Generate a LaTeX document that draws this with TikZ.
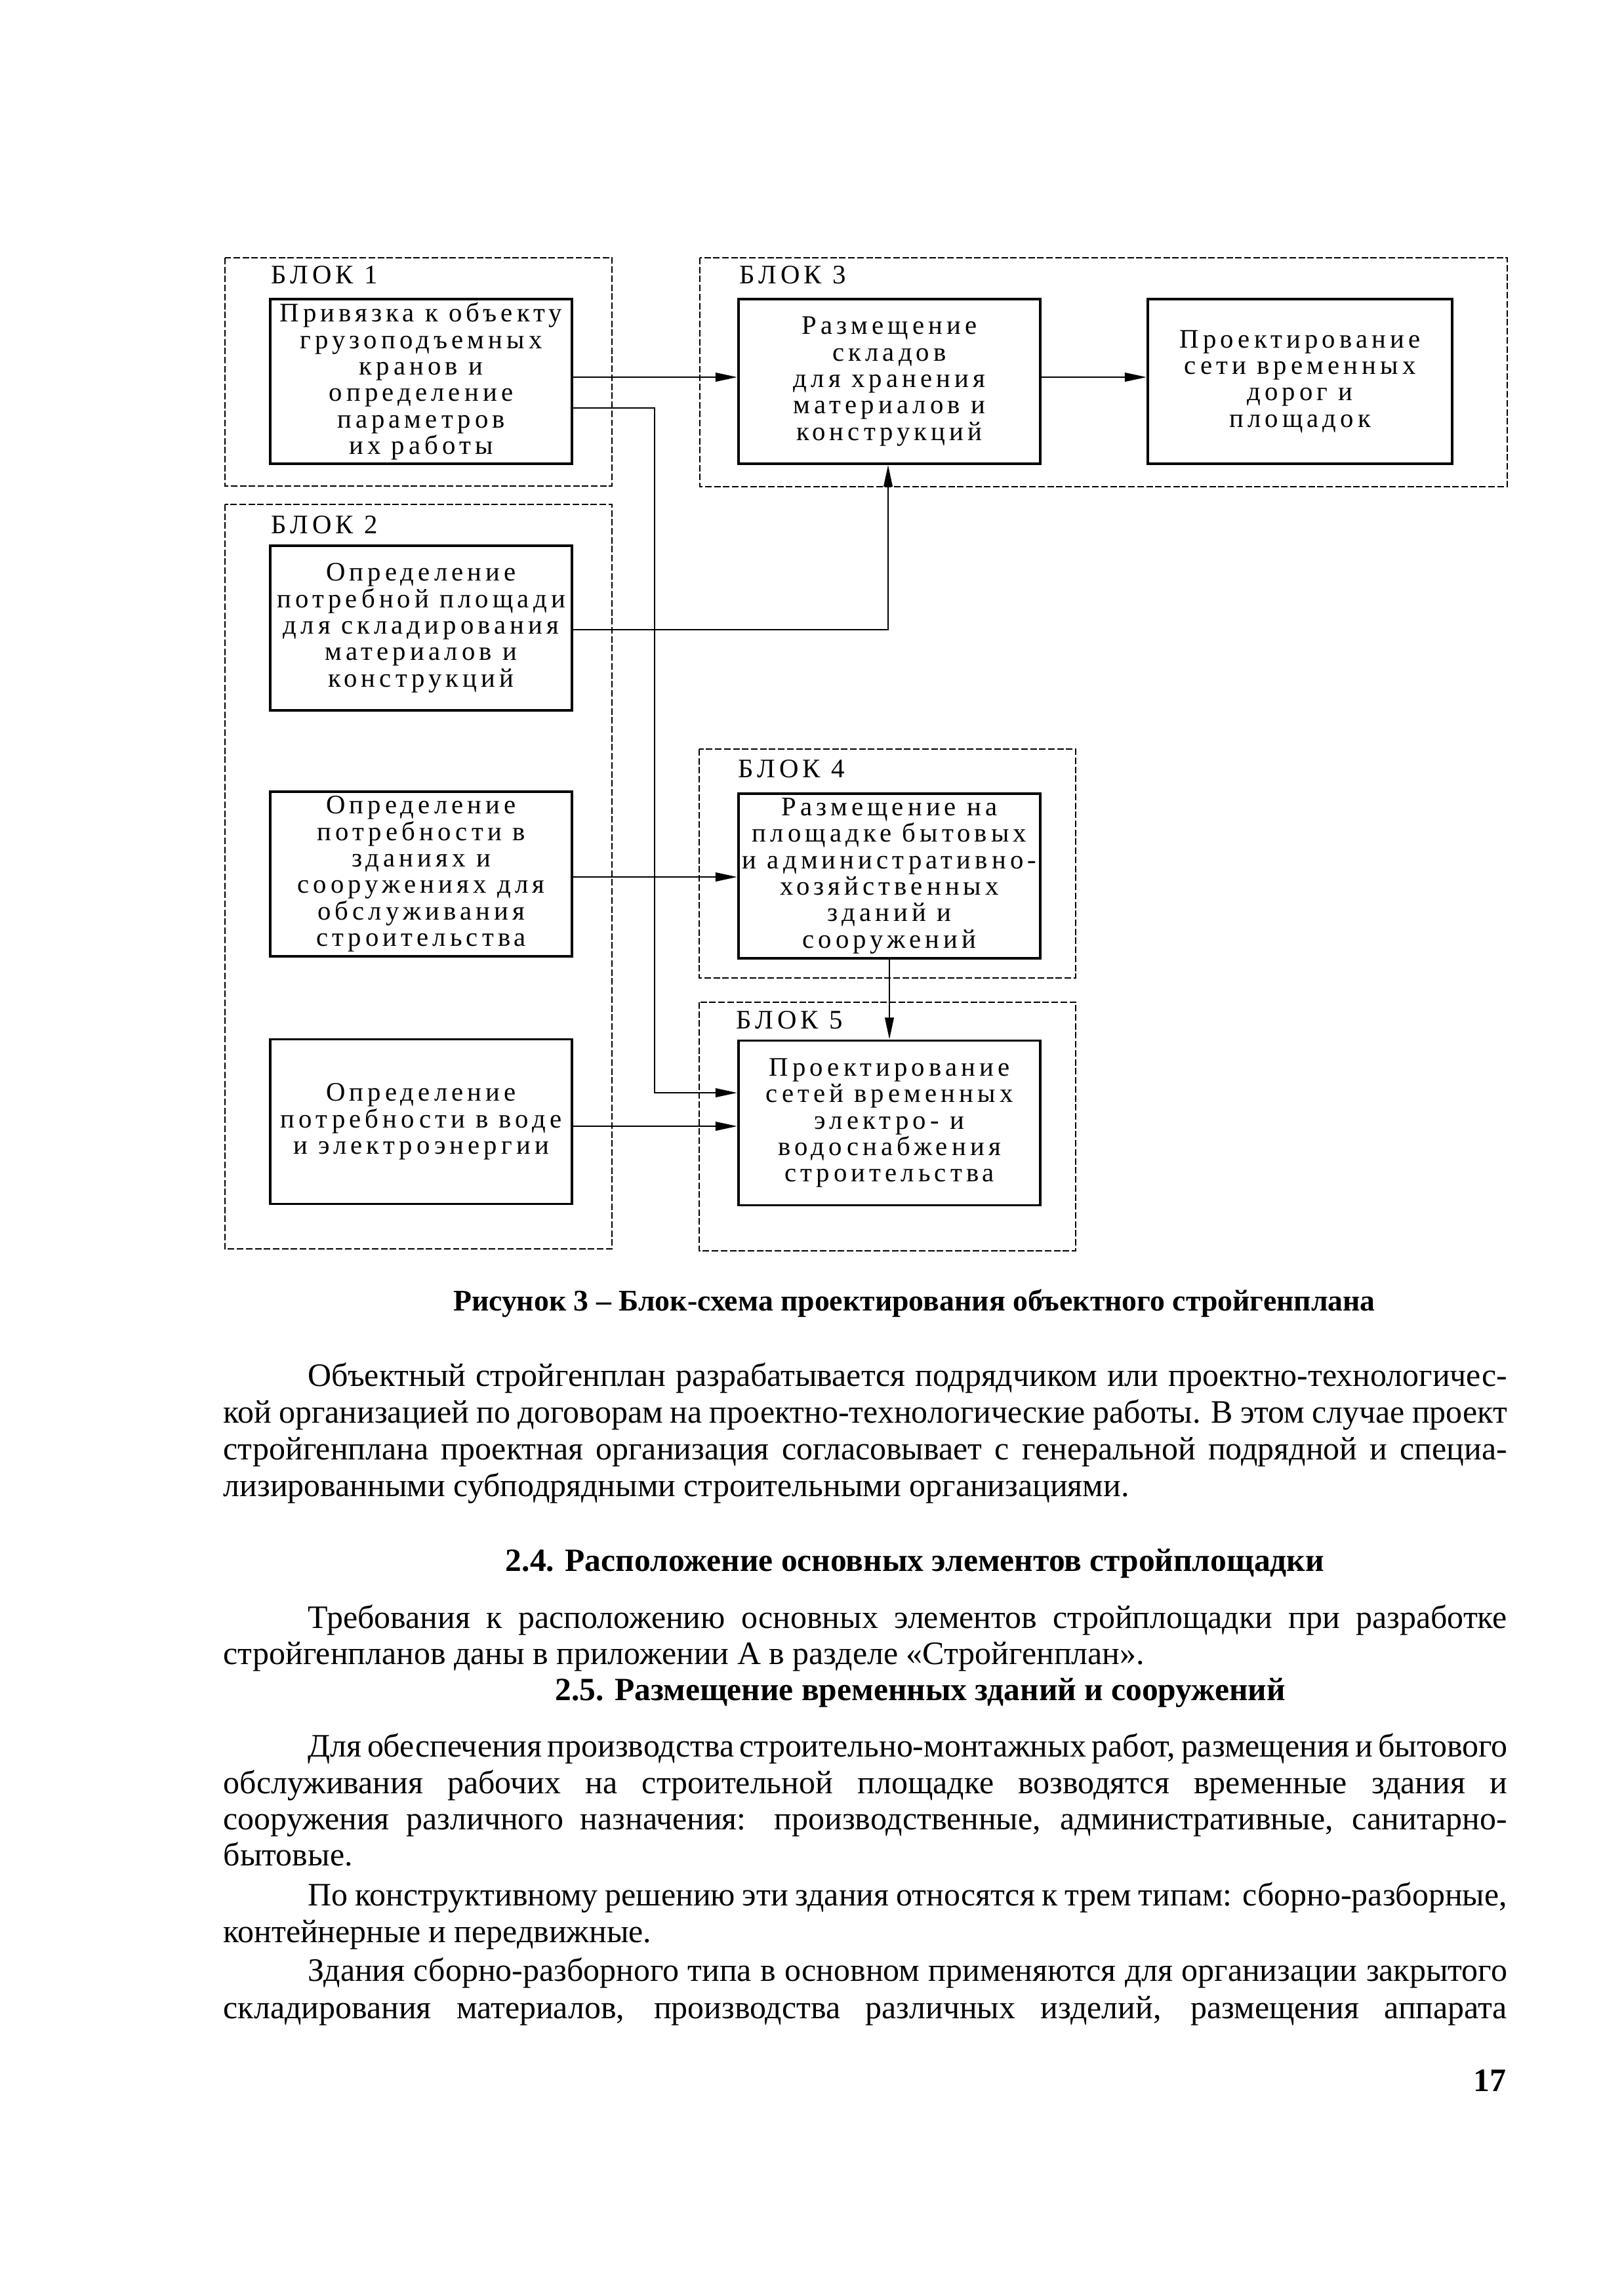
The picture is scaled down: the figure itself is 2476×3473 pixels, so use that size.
\documentclass[tikz,border=0pt]{standalone}
\usepackage{fontspec}
\setmainfont{Liberation Serif}
\newfontfamily\boxfont[LetterSpace=15]{Liberation Serif}
\usetikzlibrary{arrows.meta}
\newcommand\jfull[1]{\makebox[470.5pt][s]{#1}}
\newcommand\jind[1]{\makebox[439.5pt][s]{#1}}
\begin{document}
\begin{tikzpicture}[x=0.2404pt, y=-0.2404pt,
  frame/.style={line width=0.45pt, dash pattern=on 2.4pt off 0.9pt},
  proc/.style={draw, line width=0.9pt, inner sep=0pt, align=center,
    font=\boxfont\fontsize{9.8}{9.7}\selectfont,
    minimum width=110.6pt, minimum height=60.3pt},
  blabel/.style={inner sep=0pt, anchor=base west, font=\boxfont\fontsize{9.8}{9.7}\selectfont},
  conn/.style={line width=0.7pt},
  arr/.style={conn, -{Triangle[length=8pt,width=3.2pt]}},
  body/.style={inner sep=0pt, anchor=base west, font=\fontsize{12}{13.5}\selectfont},
  head/.style={inner sep=0pt, anchor=base, font=\bfseries\fontsize{11.9}{13.5}\selectfont},
  capt/.style={inner sep=0pt, anchor=base, font=\bfseries\fontsize{11}{13}\selectfont}]
\useasboundingbox[fill=white] (0,0) rectangle (2476,3473);

% dashed block frames
\draw[frame] (343,393) rectangle (933,741);
\draw[frame] (343,769) rectangle (933,1904);
\draw[frame] (1067,393) rectangle (2298,742);
\draw[frame] (1066,1142) rectangle (1640,1491);
\draw[frame] (1066,1528) rectangle (1640,1907);

% block labels
\node[blabel] (l1) at (413,432) {БЛОК 1};
\node[blabel] (l2) at (413,813) {БЛОК 2};
\node[blabel] (l3) at (1127,432) {БЛОК 3};
\node[blabel] (l4) at (1125,1185) {БЛОК 4};
\node[blabel] (l5) at (1122,1568) {БЛОК 5};

% process boxes
\node[proc] (box1) at (642,581.5) {Привязка к объекту\\грузоподъемных\\кранов и\\определение\\параметров\\их работы};
\node[proc] (box3a) at (1356,581.5) {Размещение\\складов\\для хранения\\материалов и\\конструкций};
\node[proc, minimum width=111.5pt] (box3b) at (1982,581.5) {Проектирование\\сети временных\\дорог и\\площадок};
\node[proc] (box2a) at (642,957.5) {Определение\\потребной площади\\для складирования\\материалов и\\конструкций};
\node[proc] (box2b) at (642,1332.5) {Определение\\потребности в\\зданиях и\\сооружениях для\\обслуживания\\строительства};
\node[proc] (box4) at (1356,1335.5) {Размещение на\\площадке бытовых\\и административно-\\хозяйственных\\зданий и\\сооружений};
\node[proc] (box2c) at (642,1710) {Определение\\потребности в воде\\и электроэнергии};
\node[proc] (box5) at (1356,1712) {Проектирование\\сетей временных\\электро- и\\водоснабжения\\строительства};

% connectors
\coordinate (r1) at (0,575);
\coordinate (c1) at (998,622);
\coordinate (c1b) at (998,1666);
\coordinate (c2) at (1354,960);
\coordinate (r4) at (0,1337);
\coordinate (r7) at (0,1717);
\draw[arr] (box1.east |- r1) -- (box3a.west |- r1);
\draw[arr] (box3a.east |- r1) -- (box3b.west |- r1);
\draw[arr] (box1.east |- c1) -- (c1) -- (c1b) -- (box5.west |- c1b);
\draw[arr] (box2a.east |- c2) -- (c2) -- (c2 |- box3a.south);
\draw[arr] (box2b.east |- r4) -- (box4.west |- r4);
\draw[arr] (box4.south) -- (box5.north);
\draw[arr] (box2c.east |- r7) -- (box5.west |- r7);

% caption
\node[capt] (cap) at (1394,1998) {Рисунок 3 – Блок-схема проектирования объектного стройгенплана};

% paragraph 1
\node[body] (p1a) at (469,2113) {\jind{Объектный стройгенплан разрабатывается подрядчиком или проектно-технологичес-}};
\node[body] (p1b) at (340,2169) {\jfull{кой организацией по договорам на проектно-технологические работы. В этом случае проект}};
\node[body] (p1c) at (340,2225) {\jfull{стройгенплана проектная организация согласовывает с генеральной подрядной и специа-}};
\node[body] (p1d) at (340,2281) {лизированными субподрядными строительными организациями.};

\node[head] (h24) at (1395,2395) {2.4. Расположение основных элементов стройплощадки};

\node[body] (p2a) at (469,2482) {\jind{Требования к расположению основных элементов стройплощадки при разработке}};
\node[body] (p2b) at (340,2537) {стройгенпланов даны в приложении А в разделе «Стройгенплан».};

\node[head] (h25) at (1403,2592) {2.5. Размещение временных зданий и сооружений};

\node[body] (p3a) at (469,2678) {\jind{Для обеспечения производства строительно-монтажных работ, размещения и бытового}};
\node[body] (p3b) at (340,2734) {\jfull{обслуживания рабочих на строительной площадке возводятся временные здания и}};
\node[body] (p3c) at (340,2789) {\jfull{сооружения различного назначения: производственные, административные, санитарно-}};
\node[body] (p3d) at (340,2844) {бытовые.};

\node[body] (p4a) at (469,2905) {\jind{По конструктивному решению эти здания относятся к трем типам: сборно-разборные,}};
\node[body] (p4b) at (340,2961) {контейнерные и передвижные.};

\node[body] (p5a) at (469,3020) {\jind{Здания сборно-разборного типа в основном применяются для организации закрытого}};
\node[body] (p5b) at (340,3077) {\jfull{складирования материалов, производства различных изделий, размещения аппарата}};

\node[inner sep=0pt, anchor=base east, font=\bfseries\fontsize{12}{13.5}\selectfont] (pg) at (2297,3188) {17};
\end{tikzpicture}
\end{document}
